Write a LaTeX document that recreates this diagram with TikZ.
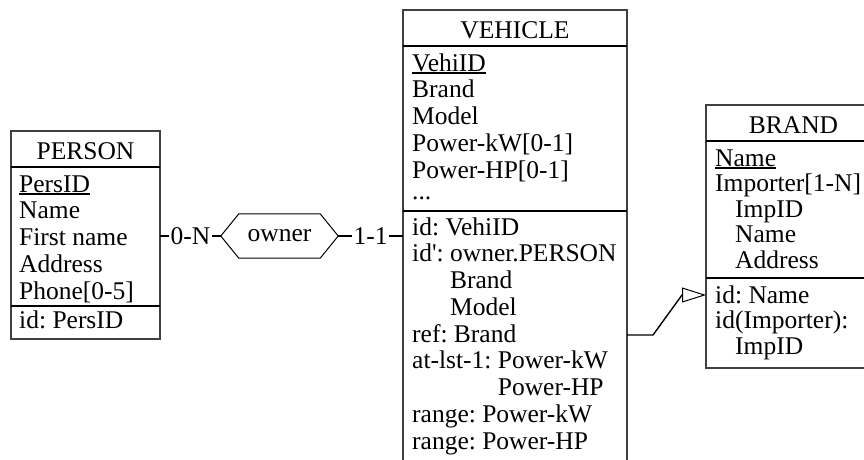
\documentclass[tikz,border=0pt]{standalone}
\usepackage{fontspec}
\setmainfont{Liberation Serif}
\usetikzlibrary{arrows.meta}
\newcommand*{\keyul}[1]{\setbox0\hbox{#1}\rlap{\rule[-3pt]{\wd0}{1.8pt}}#1}
\frenchspacing

\begin{document}
\begin{tikzpicture}[x=1pt,y=-1pt,
		box/.style={draw=black!75,line width=1.1pt,inner sep=0pt,outer sep=0pt,anchor=north west},
		sep/.style={line width=2pt},
		txt/.style={inner sep=0pt,anchor=base west,font=\fontsize{25.5}{26.75}\selectfont},
		ttl/.style={inner sep=0pt,anchor=base,font=\fontsize{25.5}{26.75}\selectfont},
		link/.style={line width=1.4pt},
		card/.style={fill=white,inner sep=1.5pt,font=\fontsize{25.5}{26.75}\selectfont}]
			\useasboundingbox (0,0) rectangle (864,459);
			\clip (0,0) rectangle (864,459);
			% PERSON
			\node[box,minimum width=149pt,minimum height=208pt] (person) at (11,131) {};
			\node[ttl] (person-t) at (85.5,159) {PERSON};
			\draw[sep] (11,167)--(160,167);
			\foreach \a [count=\i] in {\keyul{PersID},Name,First name,Address,Phone[0-5]}
				\node[txt] (person-a\i) at (19,{192+26.75*(\i-1)}) {\a};
			\draw[sep] (11,305.5)--(160,305.5);
			\node[txt] (person-c1) at (19,328.5) {id: PersID};
			% VEHICLE
			\node[box,minimum width=224pt,minimum height=480pt] (vehicle) at (403,10) {};
			\node[ttl] (vehicle-t) at (515,38) {VEHICLE};
			\draw[sep] (403,46)--(627,46);
			\foreach \a [count=\i] in {\keyul{VehiID},Brand,Model,Power-kW[0-1],Power-HP[0-1]}
				\node[txt] (vehicle-a\i) at (412,{71+26.75*(\i-1)}) {\a};
			\node[txt,text height=3pt] (vehicle-a6) at (412,199) {...};
			\draw[sep] (403,211)--(627,211);
			\foreach \a [count=\i] in {id: VehiID,id\textquotesingle: owner.PERSON,\phantom{id\textquotesingle: }Brand,\phantom{id\textquotesingle: }Model,
				ref: Brand,at-lst-1: Power-kW,\phantom{at-lst-1: }Power-HP,range: Power-kW,range: Power-HP}
				\node[txt] (vehicle-c\i) at (412,{235+26.75*(\i-1)}) {\a};
			% BRAND
			\node[box,minimum width=175pt,minimum height=263pt] (brand) at (706,105) {};
			\node[ttl] (brand-t) at (793.5,133) {BRAND};
			\draw[sep] (706,140.5)--(881,140.5);
			\foreach \a [count=\i] in {\keyul{Name},Importer[1-N],\hspace*{20pt}ImpID,\hspace*{20pt}Name,\hspace*{20pt}Address}
				\node[txt] (brand-a\i) at (715,{166+25.5*(\i-1)}) {\a};
			\draw[sep] (706,278)--(881,278);
			\foreach \a [count=\i] in {id: Name,id(Importer):,\hspace*{20pt}ImpID}
				\node[txt] (brand-c\i) at (715,{303+25.5*(\i-1)}) {\a};
			% owner
			\node[inner sep=0pt,minimum width=117pt,minimum height=44pt,font=\fontsize{25.5}{26.75}\selectfont] (owner) at (279.5,236) {owner};
			\draw[line width=1pt] (owner.west)--([xshift=18pt]owner.north west)--([xshift=-18pt]owner.north east)--(owner.east)
				--([xshift=-18pt]owner.south east)--([xshift=18pt]owner.south west)--cycle;
			\draw[link] (person.east |- owner.west)--node[card]{0-N} (owner.west);
			\draw[link] (owner.east)--node[card]{1-1} (owner.east -| vehicle.west);
			% ref: Brand
			\coordinate (reflvl) at (0,335);
			\coordinate (bend) at (682,295);
			\draw[link,-{Triangle[open,length=24pt,width=15pt,line width=1pt]}] (vehicle.east |- reflvl)--++(26,0)--(bend)--(bend -| brand.west);
		\end{tikzpicture}
\end{document}
